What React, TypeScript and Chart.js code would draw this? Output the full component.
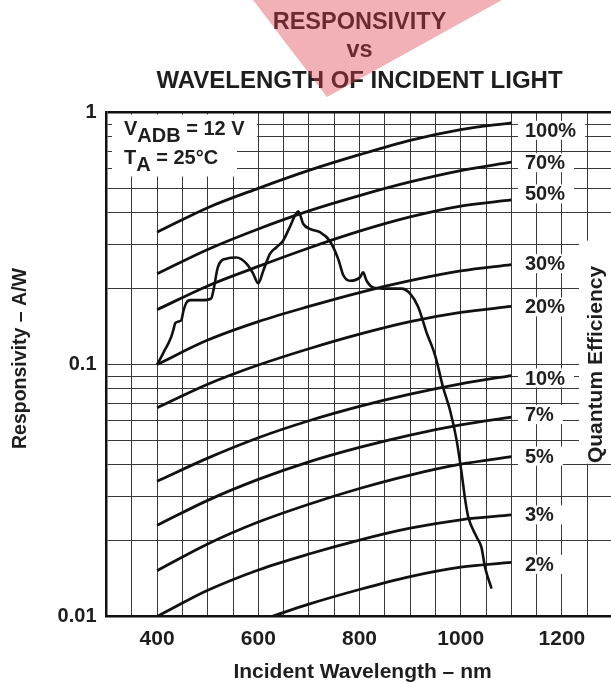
import React, { useEffect, useRef } from 'react';
import { Chart, registerables } from 'chart.js';

Chart.register(...registerables);

// ---- Data ----
const QE_NM = [400, 500, 600, 700, 800, 900, 1000, 1100];
const QE_100 = [0.335, 0.419, 0.5, 0.589, 0.68, 0.775, 0.855, 0.91];
const QE_70 = [0.229, 0.286, 0.345, 0.407, 0.468, 0.53, 0.588, 0.635];
const QE_50 = [0.165, 0.205, 0.245, 0.29, 0.338, 0.385, 0.425, 0.45];
const QE_30 = [0.1, 0.125, 0.148, 0.17, 0.193, 0.215, 0.235, 0.249];
const QE_20 = [0.0673, 0.0835, 0.0995, 0.1155, 0.132, 0.148, 0.161, 0.17];
const QE_10 = [0.0344, 0.0425, 0.0512, 0.0598, 0.0682, 0.0763, 0.0838, 0.0904];
const QE_7 = [0.023, 0.0289, 0.035, 0.0411, 0.0469, 0.0525, 0.0576, 0.0618];
const QE_5 = [0.0152, 0.0194, 0.0237, 0.0279, 0.0322, 0.0364, 0.0402, 0.0431];
const QE_3 = [0.01, 0.0127, 0.0153, 0.0177, 0.0201, 0.0224, 0.0242, 0.0253];
const QE_2_NM = [626, 700, 800, 900, 1000, 1100];
const QE_2 = [0.01, 0.0112, 0.0128, 0.0144, 0.0157, 0.0164];

const QE_LABELS = ['100%', '70%', '50%', '30%', '20%', '10%', '7%', '5%', '3%', '2%'];

const SPECTRAL_NM = [
  400, 408, 415, 422, 428, 432, 436, 442, 448, 452, 458, 466, 490, 507, 512, 520,
  537, 557, 577, 590, 600, 610, 623, 636, 649, 662, 679, 689, 702, 722, 741, 758,
  768, 781, 801, 807, 814, 827, 847, 883, 900, 916, 933, 946, 952, 965, 979, 992,
  1002, 1009, 1015, 1032, 1041, 1048, 1061,
];
const SPECTRAL_RESP = [
  0.1, 0.107, 0.114, 0.121, 0.129, 0.137, 0.146, 0.148, 0.15, 0.163, 0.176, 0.18, 0.18, 0.183, 0.2, 0.243,
  0.263, 0.266, 0.251, 0.229, 0.21, 0.236, 0.275, 0.292, 0.31, 0.35, 0.405, 0.361, 0.345, 0.335, 0.31, 0.262,
  0.226, 0.215, 0.222, 0.232, 0.215, 0.202, 0.2, 0.2, 0.191, 0.169, 0.133, 0.114, 0.104, 0.0813, 0.0657, 0.05,
  0.0368, 0.0289, 0.0248, 0.0206, 0.0188, 0.0157, 0.0129,
];

const X_GRID = [300, 350, 400, 450, 500, 550, 600, 650, 700, 750, 800, 850, 900, 950, 1000, 1050, 1100, 1150, 1200, 1250];
const X_TICK_LABELS = [400, 600, 800, 1000, 1200];
const Y_GRID = [
  0.01, 0.02, 0.03, 0.04, 0.05, 0.06, 0.07, 0.08, 0.09,
  0.1, 0.2, 0.3, 0.4, 0.5, 0.6, 0.7, 0.8, 0.9, 1,
];
const Y_TICK_LABELS = [0.01, 0.1, 1];

const TITLE_LINES = ['RESPONSIVITY', 'vs', 'WAVELENGTH OF INCIDENT LIGHT'];
const X_TITLE = 'Incident Wavelength \u2013 nm';
const Y_TITLE = 'Responsivity \u2013 A/W';
const Y2_TITLE = 'Quantum Efficiency';

// ---- Styles ----
const FONT_FAMILY = '"Liberation Sans", Arial, Helvetica, sans-serif';
const INK = '#1e1e1e';
const GRID = '#3a3a3a';
const LABEL_OFFSETS = [7.5, 0.5, -6, -1, 0.5, 2.5, -2.5, -0.5, 0, 2];

export default function App() {
  const ref = useRef<HTMLCanvasElement>(null);

  useEffect(() => {
    const canvas = ref.current;
    if (!canvas) return;

    const qe = [QE_100, QE_70, QE_50, QE_30, QE_20, QE_10, QE_7, QE_5, QE_3];
    const datasets: any[] = qe.map((vals, i) => ({
      label: QE_LABELS[i],
      data: QE_NM.map((x, j) => ({ x, y: vals[j] })),
      borderColor: '#111',
      borderWidth: 2.8,
      pointRadius: 0,
      fill: false,
      cubicInterpolationMode: 'monotone',
    }));
    datasets.push({
      label: QE_LABELS[9],
      data: QE_2_NM.map((x, j) => ({ x, y: QE_2[j] })),
      borderColor: '#111',
      borderWidth: 2.8,
      pointRadius: 0,
      fill: false,
      cubicInterpolationMode: 'monotone',
    });
    datasets.push({
      label: 'Responsivity',
      data: SPECTRAL_NM.map((x, j) => ({ x, y: SPECTRAL_RESP[j] })),
      borderColor: '#111',
      borderWidth: 2.6,
      pointRadius: 0,
      fill: false,
      cubicInterpolationMode: 'monotone',
    });

    const labelCenter = (chart: any, i: number) => {
      const ds = chart.data.datasets[i].data;
      const last = ds[ds.length - 1].y;
      return chart.scales.y.getPixelForValue(last) + LABEL_OFFSETS[i];
    };

    const overlay = {
      id: 'overlay',
      beforeDatasetsDraw(chart: any) {
        const ctx = chart.ctx;
        ctx.save();
        ctx.fillStyle = '#fff';
        // condition box
        ctx.fillRect(112, 114.5, 145, 36);
        ctx.fillRect(112, 150, 125, 26.5);
        // QE label boxes
        ctx.font = `bold 20px ${FONT_FAMILY}`;
        const left = chart.scales.x.getPixelForValue(1127);
        QE_LABELS.forEach((lab, i) => {
          const cy = labelCenter(chart, i);
          const w = ctx.measureText(lab).width;
          ctx.fillRect(left - 7, cy - 9.5, w + 16, 19);
        });
        // Quantum efficiency title box
        const yTop = chart.scales.y.getPixelForValue(0.31);
        const yBot = chart.scales.y.getPixelForValue(0.04);
        ctx.fillRect(579, yTop, chart.width - 579, yBot - yTop - 1);
        ctx.restore();
      },
      afterDraw(chart: any) {
        const ctx = chart.ctx;
        const area = chart.chartArea;
        ctx.save();
        ctx.fillStyle = INK;

        // titles
        ctx.textAlign = 'center';
        ctx.textBaseline = 'alphabetic';
        ctx.font = `bold 23.5px ${FONT_FAMILY}`;
        const tx = chart.scales.x.getPixelForValue(800);
        ctx.fillText(TITLE_LINES[0], tx, 28.5);
        ctx.fillText(TITLE_LINES[1], tx, 57);
        ctx.font = `bold 24px ${FONT_FAMILY}`;
        ctx.fillText(TITLE_LINES[2], tx, 87.5);

        // x title
        ctx.font = `bold 21px ${FONT_FAMILY}`;
        ctx.fillText(X_TITLE, tx + 3, 678);

        // y title
        const cy = (area.top + area.bottom) / 2;
        ctx.save();
        ctx.translate(26, cy - 6);
        ctx.rotate(-Math.PI / 2);
        ctx.font = `bold 19.5px ${FONT_FAMILY}`;
        ctx.fillText(Y_TITLE, 0, 0);
        ctx.restore();

        // right title
        ctx.save();
        ctx.translate(602, cy);
        ctx.rotate(-Math.PI / 2);
        ctx.font = `bold 21px ${FONT_FAMILY}`;
        ctx.fillText(Y2_TITLE, 0, 0);
        ctx.restore();

        // QE labels
        ctx.textAlign = 'left';
        ctx.textBaseline = 'middle';
        ctx.font = `bold 20px ${FONT_FAMILY}`;
        const lx = chart.scales.x.getPixelForValue(1127);
        QE_LABELS.forEach((lab, i) => {
          ctx.fillText(lab, lx, labelCenter(chart, i) + 1);
        });

        // conditions
        ctx.textBaseline = 'alphabetic';
        const drawSub = (main: string, sub: string, rest: string, x: number, y: number) => {
          ctx.font = `bold 20px ${FONT_FAMILY}`;
          ctx.fillText(main, x, y);
          let cx = x + ctx.measureText(main).width;
          ctx.fillText(sub, cx, y + 7);
          cx += ctx.measureText(sub).width;
          ctx.fillText(rest, cx, y);
        };
        drawSub('V', 'ADB', ' = 12 V', 124, 134.5);
        drawSub('T', 'A', ' = 25\u00B0C', 124, 163.5);

        // watermark
        ctx.globalAlpha = 0.4;
        ctx.fillStyle = 'rgb(222,60,72)';
        ctx.beginPath();
        ctx.moveTo(253, 0);
        ctx.lineTo(502, 0);
        ctx.lineTo(327, 97);
        ctx.closePath();
        ctx.fill();
        ctx.restore();
      },
    };

    const chart = new Chart(canvas, {
      type: 'line',
      data: { datasets },
      options: {
        animation: false,
        responsive: false,
        devicePixelRatio: 1,
        layout: { padding: { top: 112.5, left: 0, right: 0, bottom: 0 } },
        plugins: {
          legend: { display: false },
          title: { display: false },
          tooltip: { enabled: false },
        },
        scales: {
          x: {
            type: 'linear',
            min: 300,
            max: 1297,
            afterBuildTicks: (s: any) => {
              s.ticks = X_GRID.map((v) => ({ value: v }));
            },
            afterFit: (s: any) => {
              s.height = 67.5;
            },
            ticks: {
              autoSkip: false,
              maxRotation: 0,
              minRotation: 0,
              padding: 10,
              color: INK,
              font: { family: FONT_FAMILY, size: 21, weight: 'bold' },
              callback: (v: any) => (X_TICK_LABELS.includes(Number(v)) ? String(v) : ''),
            },
            grid: { color: GRID, lineWidth: 1, drawTicks: false },
            border: { display: true, color: '#111', width: 2.5 },
          },
          y: {
            type: 'logarithmic',
            min: 0.01,
            max: 1,
            afterBuildTicks: (s: any) => {
              s.ticks = Y_GRID.map((v) => ({ value: v, major: Y_TICK_LABELS.includes(v) }));
            },
            afterFit: (s: any) => {
              s.width = 106.5;
            },
            ticks: {
              autoSkip: false,
              padding: 10,
              color: INK,
              font: { family: FONT_FAMILY, size: 20, weight: 'bold' },
              callback: (v: any) => {
                const n = Number(v);
                const hit = Y_TICK_LABELS.find((t) => Math.abs(t - n) < 1e-9);
                return hit !== undefined ? String(hit) : '';
              },
            },
            grid: {
              color: (c: any) => (c.tick && c.tick.value === 1 ? '#111' : GRID),
              lineWidth: (c: any) => (c.tick && c.tick.value === 1 ? 2.5 : 1),
              drawTicks: false,
            },
            border: { display: true, color: '#111', width: 2.5 },
          },
        },
      } as any,
      plugins: [overlay],
    });

    return () => chart.destroy();
  }, []);

  return (
    <div style={{ position: 'absolute', left: 0, top: 0, width: 611, height: 684, background: '#fff', overflow: 'hidden' }}>
      <canvas ref={ref} width={611} height={684} style={{ display: 'block', width: 611, height: 684 }} />
    </div>
  );
}
